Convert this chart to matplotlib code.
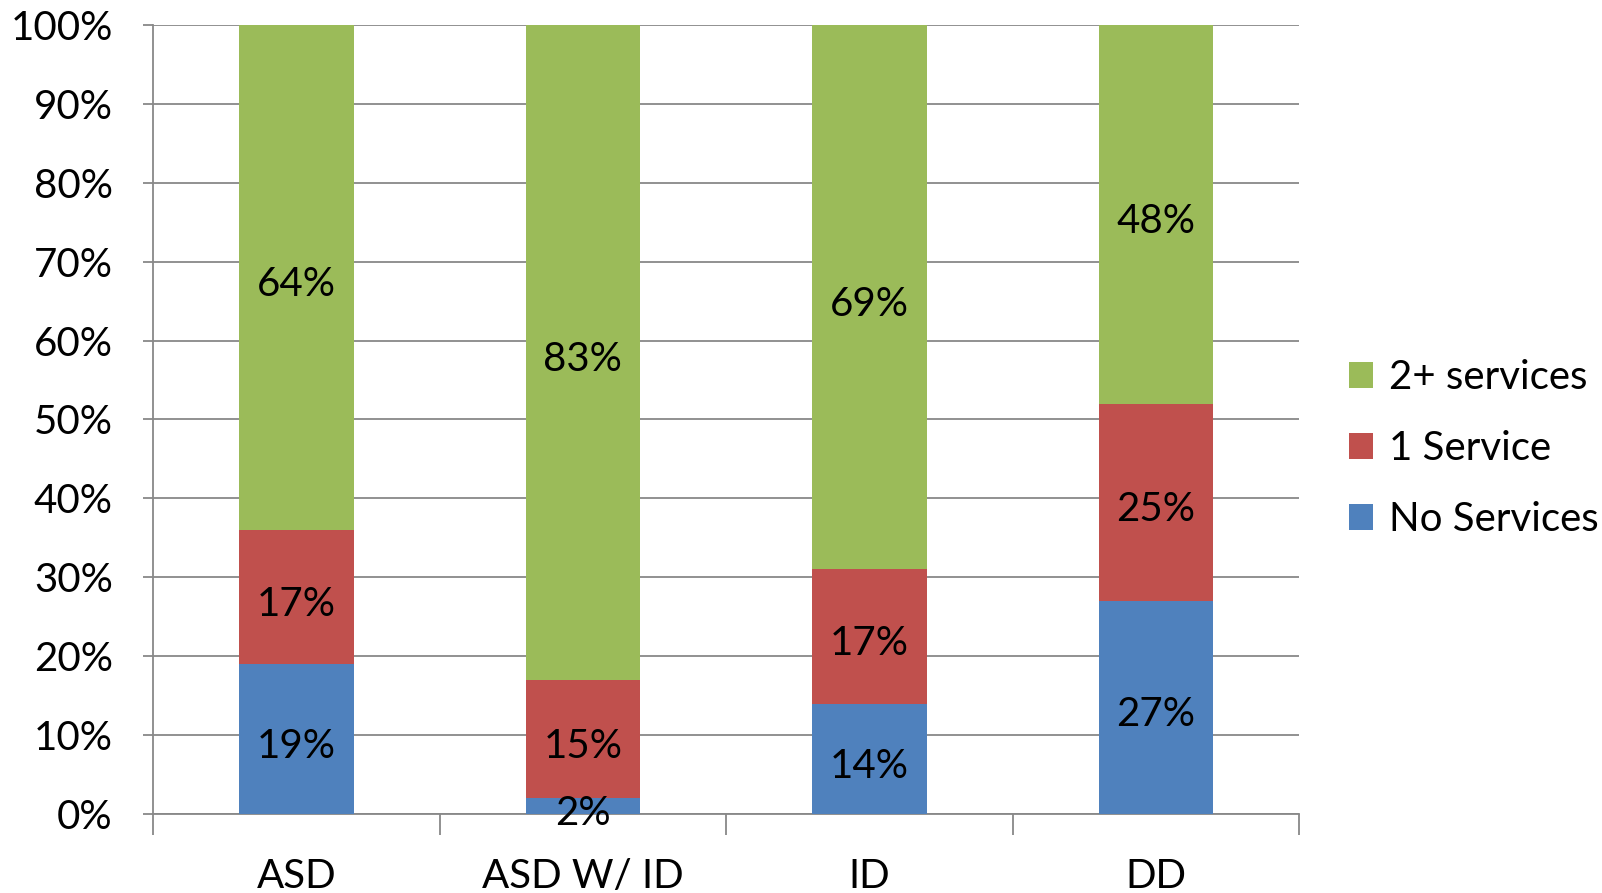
import numpy as np
import matplotlib.pyplot as plt

categories = ['ASD', 'ASD W/ ID', 'ID', 'DD']
no_services = [19, 2, 14, 27]
one_service = [17, 15, 17, 25]
two_plus = [64, 83, 69, 48]

plt.rcParams['font.family'] = ['Lato', 'DejaVu Sans']

fig = plt.figure(figsize=(16.02, 8.93), dpi=100)
ax = fig.add_axes([0.0955, 0.0885, 0.7155, 0.8835])

x = np.arange(len(categories))
w = 0.4
series = [(no_services, '#4F81BD', 'No Services'),
          (one_service, '#C0504D', '1 Service'),
          (two_plus, '#9BBB59', '2+ services')]
bottom = np.zeros(len(categories))
handles = []
for vals, col, lab in series:
    vals = np.array(vals, dtype=float)
    b = ax.bar(x, vals, w, bottom=bottom, color=col, label=lab, zorder=3)
    handles.append(b)
    for xi, v, bt in zip(x, vals, bottom):
        # nudge a little down, labels in the original sit slightly below centre
        ax.text(xi, bt + v / 2 - 0.5, f'{int(v)}%', ha='center', va='center_baseline',
                fontsize=29, color='black', zorder=4)
    bottom += vals

ax.set_xlim(-0.5, 3.5)
ax.set_ylim(0, 100)
ax.set_yticks(np.arange(0, 101, 10))
ax.set_yticklabels([f'{t}%' for t in range(0, 101, 10)])
ax.yaxis.grid(True, color='#888888', linewidth=1.3, zorder=0)
ax.set_xticks(x)
ax.set_xticklabels(categories)
ax.set_xticks(np.arange(-0.5, 4, 1), minor=True)
ax.tick_params(axis='x', which='major', length=0, labelsize=29, pad=32)
ax.tick_params(axis='x', which='minor', length=15, width=1.3, color='#888888')
ax.tick_params(axis='y', length=7, width=1.3, color='#888888', labelsize=29, pad=22)
for s in ['top', 'right']:
    ax.spines[s].set_visible(False)
for s in ['left', 'bottom']:
    ax.spines[s].set_color('#888888')
    ax.spines[s].set_linewidth(1.3)

leg = fig.legend(handles[::-1], [h.get_label() for h in handles[::-1]],
                 loc='center left', bbox_to_anchor=(0.8195, 0.4976), frameon=False,
                 fontsize=29, handlelength=0.6, handleheight=0.6,
                 handletextpad=0.4, labelspacing=0.84)

fig.savefig('out.png', dpi=100)
